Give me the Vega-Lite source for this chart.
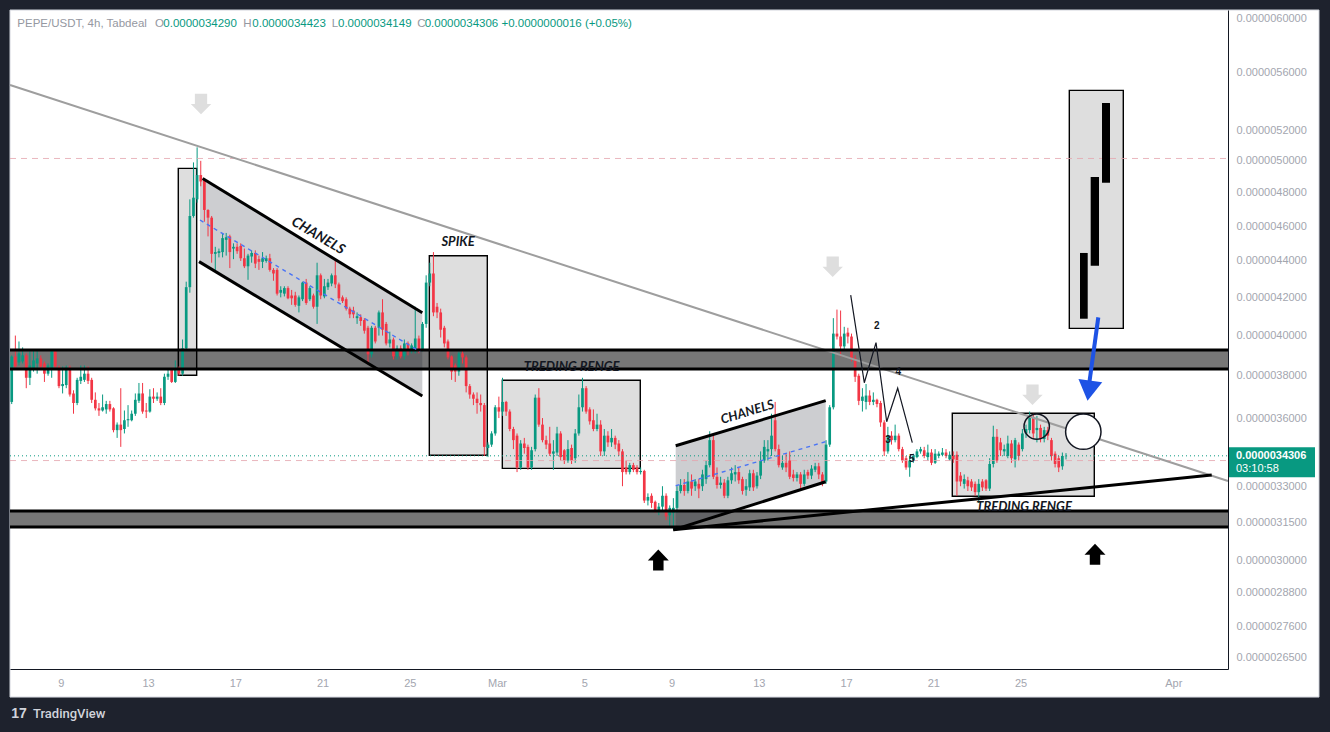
{
  "$schema": "https://vega.github.io/schema/vega-lite/v6.json",
  "width": 1218,
  "height": 659,
  "autosize": {"type": "none"},
  "padding": {"left": 10, "top": 10, "right": 102, "bottom": 63},
  "background": "#1e222d",
  "config": {"view": {"stroke": null, "fill": "#ffffff"}, "text": {"font": "Liberation Sans"}},
  "datasets": {
    "panel": [{"i": 34.53, "i2": 394.59, "p": 60.62, "p2": 25.21}],
    "bands": [{"i": 34.53, "i2": 369.56, "p": 39.27, "p2": 38.33}, {"i": 34.53, "i2": 369.56, "p": 31.97, "p2": 31.33}],
    "blines": [{"i": 34.53, "i2": 369.56, "p": 39.27}, {"i": 34.53, "i2": 369.56, "p": 38.33}, {"i": 34.53, "i2": 369.56, "p": 31.97}, {"i": 34.53, "i2": 369.56, "p": 31.33}],
    "plines": [{"i": 34.53, "i2": 369.56, "p": 50.15}, {"i": 34.53, "i2": 369.56, "p": 34.1}],
    "last": [{"i": 34.53, "i2": 369.56, "p": 34.306}],
    "boxes": [
      {"i": 80.82, "i2": 85.88, "p": 49.52, "p2": 38.02},
      {"i": 149.87, "i2": 165.82, "p": 44.29, "p2": 34.33},
      {"i": 169.95, "i2": 207.9, "p": 37.78, "p2": 33.76},
      {"i": 293.72, "i2": 332.78, "p": 36.22, "p2": 32.58},
      {"i": 325.91, "i2": 340.76, "p": 54.71, "p2": 40.37}
    ],
    "chfill": [
      {"g": "a", "i": 86.79, "p": 49.0, "p2": 43.92}, {"g": "a", "i": 147.94, "p": 41.18, "p2": 37.03},
      {"g": "b", "i": 217.64, "p": 34.75, "p2": 31.24}, {"g": "b", "i": 258.9, "p": 36.81, "p2": 33.19}
    ],
    "candles": [
      {"i":35,"o":36.75,"h":39.0,"l":36.65,"c":38.94},{"i":36,"o":38.94,"h":40.0,"l":38.3,"c":38.45},
      {"i":37,"o":38.65,"h":39.7,"l":38.5,"c":39.1},{"i":38,"o":38.7,"h":39.4,"l":38.6,"c":39.0},
      {"i":39,"o":39.0,"h":39.1,"l":37.4,"c":37.9},{"i":40,"o":37.9,"h":39.2,"l":37.55,"c":38.5},
      {"i":41,"o":38.3,"h":39.3,"l":38.2,"c":38.75},{"i":42,"o":38.6,"h":39.3,"l":38.1,"c":38.85},
      {"i":43,"o":38.85,"h":39.0,"l":38.3,"c":38.45},{"i":44,"o":38.6,"h":38.7,"l":37.7,"c":38.1},
      {"i":45,"o":38.1,"h":38.6,"l":38.0,"c":38.5},{"i":46,"o":38.3,"h":39.3,"l":37.9,"c":39.2},
      {"i":47,"o":39.2,"h":39.3,"l":38.3,"c":38.45},{"i":48,"o":38.4,"h":38.5,"l":37.4,"c":37.5},
      {"i":49,"o":37.5,"h":38.45,"l":37.15,"c":37.6},{"i":50,"o":37.55,"h":38.5,"l":37.4,"c":38.4},
      {"i":51,"o":38.4,"h":38.5,"l":37.0,"c":37.1},{"i":52,"o":37.15,"h":37.3,"l":36.2,"c":36.7},
      {"i":53,"o":36.7,"h":37.9,"l":36.6,"c":37.8},{"i":54,"o":37.75,"h":38.5,"l":37.6,"c":37.95},
      {"i":55,"o":37.8,"h":38.5,"l":37.7,"c":38.1},{"i":56,"o":38.1,"h":38.45,"l":37.6,"c":37.75},
      {"i":57,"o":37.8,"h":37.9,"l":36.7,"c":36.85},{"i":58,"o":36.85,"h":37.2,"l":36.35,"c":36.45},
      {"i":59,"o":36.45,"h":36.7,"l":36.1,"c":36.35},{"i":60,"o":36.35,"h":37.1,"l":36.3,"c":36.5},
      {"i":61,"o":36.4,"h":36.8,"l":36.2,"c":36.65},{"i":62,"o":36.65,"h":36.8,"l":36.3,"c":36.4},
      {"i":63,"o":36.45,"h":36.5,"l":35.35,"c":35.45},{"i":64,"o":35.45,"h":35.8,"l":35.1,"c":35.7},
      {"i":65,"o":35.7,"h":37.4,"l":34.7,"c":35.45},{"i":66,"o":35.5,"h":36.35,"l":35.3,"c":35.9},
      {"i":67,"o":35.9,"h":36.6,"l":35.6,"c":35.95},{"i":68,"o":35.9,"h":36.35,"l":35.85,"c":36.2},
      {"i":69,"o":36.2,"h":37.15,"l":36.1,"c":36.85},{"i":70,"o":36.8,"h":37.65,"l":36.7,"c":37.15},
      {"i":71,"o":37.15,"h":37.65,"l":36.2,"c":36.3},{"i":72,"o":36.35,"h":36.7,"l":36.0,"c":36.3},
      {"i":73,"o":36.3,"h":37.35,"l":36.25,"c":37.0},{"i":74,"o":37.0,"h":37.4,"l":36.7,"c":36.9},
      {"i":75,"o":36.9,"h":37.2,"l":36.8,"c":37.0},{"i":76,"o":37.0,"h":37.4,"l":36.6,"c":36.7},
      {"i":77,"o":36.7,"h":38.1,"l":36.6,"c":37.95},{"i":78,"o":37.95,"h":38.3,"l":37.8,"c":38.1},
      {"i":79,"o":38.35,"h":38.4,"l":37.65,"c":37.7},{"i":80,"o":37.7,"h":38.75,"l":37.65,"c":38.35},
      {"i":81,"o":38.35,"h":38.45,"l":38.0,"c":38.1},{"i":82,"o":38.1,"h":39.8,"l":38.0,"c":39.35},
      {"i":83,"o":39.35,"h":42.85,"l":39.2,"c":42.55},{"i":84,"o":42.55,"h":47.6,"l":42.25,"c":46.6},
      {"i":85,"o":46.6,"h":49.9,"l":46.5,"c":47.7},{"i":86,"o":47.6,"h":50.87,"l":47.4,"c":49.1},
      {"i":87,"o":49.1,"h":50.0,"l":48.4,"c":48.7},{"i":88,"o":48.8,"h":48.85,"l":46.26,"c":46.96},
      {"i":89,"o":46.96,"h":47.0,"l":45.4,"c":46.5},{"i":90,"o":46.5,"h":46.6,"l":43.9,"c":44.4},
      {"i":91,"o":44.4,"h":44.8,"l":43.4,"c":44.5},{"i":92,"o":44.45,"h":44.7,"l":44.2,"c":44.55},
      {"i":93,"o":44.5,"h":45.6,"l":44.2,"c":45.3},{"i":94,"o":45.2,"h":45.6,"l":44.3,"c":45.35},
      {"i":95,"o":45.4,"h":45.5,"l":43.6,"c":44.5},{"i":96,"o":44.7,"h":45.0,"l":44.1,"c":44.8},
      {"i":97,"o":44.8,"h":45.0,"l":44.4,"c":44.55},{"i":98,"o":44.85,"h":45.0,"l":44.0,"c":44.15},
      {"i":99,"o":44.15,"h":44.7,"l":43.6,"c":43.7},{"i":100,"o":43.7,"h":44.4,"l":42.95,"c":44.3},
      {"i":101,"o":44.25,"h":44.6,"l":43.9,"c":44.45},{"i":102,"o":44.45,"h":44.6,"l":43.6,"c":43.85},
      {"i":103,"o":44.1,"h":44.3,"l":43.5,"c":43.95},{"i":104,"o":43.95,"h":44.5,"l":43.6,"c":44.15},
      {"i":105,"o":44.0,"h":44.3,"l":43.9,"c":44.15},{"i":106,"o":44.15,"h":44.4,"l":43.4,"c":43.5},
      {"i":107,"o":43.5,"h":43.6,"l":42.9,"c":43.3},{"i":108,"o":43.5,"h":43.6,"l":42.1,"c":42.2},
      {"i":109,"o":42.25,"h":42.6,"l":42.0,"c":42.4},{"i":110,"o":42.2,"h":42.6,"l":42.05,"c":42.5},
      {"i":111,"o":42.5,"h":42.6,"l":41.9,"c":41.95},{"i":112,"o":42.1,"h":42.4,"l":41.6,"c":41.95},
      {"i":113,"o":42.1,"h":42.3,"l":41.5,"c":41.6},{"i":114,"o":41.55,"h":42.1,"l":41.2,"c":42.0},
      {"i":115,"o":41.9,"h":42.85,"l":41.8,"c":42.8},{"i":116,"o":42.8,"h":43.0,"l":41.6,"c":41.7},
      {"i":117,"o":41.9,"h":42.6,"l":41.8,"c":42.5},{"i":118,"o":42.1,"h":42.2,"l":41.4,"c":41.5},
      {"i":119,"o":41.5,"h":43.9,"l":40.6,"c":43.2},{"i":120,"o":43.2,"h":43.3,"l":41.9,"c":42.1},
      {"i":121,"o":42.05,"h":43.0,"l":41.95,"c":42.6},{"i":122,"o":42.55,"h":43.0,"l":42.4,"c":42.8},
      {"i":123,"o":42.75,"h":43.3,"l":42.6,"c":43.2},{"i":124,"o":43.2,"h":44.05,"l":42.5,"c":42.7},
      {"i":125,"o":42.7,"h":42.8,"l":41.8,"c":41.95},{"i":126,"o":42.0,"h":42.1,"l":41.7,"c":41.8},
      {"i":127,"o":41.9,"h":42.0,"l":41.3,"c":41.4},{"i":128,"o":41.4,"h":41.5,"l":40.9,"c":41.1},
      {"i":129,"o":41.3,"h":41.5,"l":40.9,"c":41.1},{"i":130,"o":40.9,"h":41.2,"l":40.6,"c":41.0},
      {"i":131,"o":40.95,"h":41.1,"l":40.5,"c":40.75},{"i":132,"o":40.8,"h":40.9,"l":40.1,"c":40.25},
      {"i":133,"o":40.4,"h":40.5,"l":38.6,"c":39.05},{"i":134,"o":39.05,"h":40.5,"l":38.9,"c":40.4},
      {"i":135,"o":40.4,"h":40.5,"l":39.6,"c":39.7},{"i":136,"o":40.4,"h":41.3,"l":40.0,"c":41.2},
      {"i":137,"o":41.2,"h":41.9,"l":40.0,"c":40.3},{"i":138,"o":40.6,"h":40.7,"l":39.5,"c":39.6},
      {"i":139,"o":39.6,"h":40.2,"l":39.4,"c":39.8},{"i":140,"o":39.8,"h":39.9,"l":38.8,"c":38.95},
      {"i":141,"o":38.95,"h":39.5,"l":38.8,"c":39.35},{"i":142,"o":39.35,"h":39.5,"l":38.85,"c":38.95},
      {"i":143,"o":38.95,"h":39.8,"l":38.8,"c":39.6},{"i":144,"o":39.6,"h":39.7,"l":39.0,"c":39.2},
      {"i":145,"o":39.2,"h":39.6,"l":39.1,"c":39.5},{"i":146,"o":39.2,"h":41.5,"l":39.1,"c":39.85},
      {"i":147,"o":39.85,"h":40.0,"l":39.1,"c":39.3},{"i":148,"o":39.3,"h":40.7,"l":39.2,"c":40.6},
      {"i":149,"o":40.6,"h":43.2,"l":40.4,"c":42.8},{"i":150,"o":42.8,"h":43.9,"l":42.6,"c":43.3},
      {"i":151,"o":43.3,"h":44.5,"l":41.0,"c":41.2},{"i":152,"o":41.5,"h":41.7,"l":40.9,"c":41.2},
      {"i":153,"o":41.2,"h":41.4,"l":39.9,"c":40.3},{"i":154,"o":40.4,"h":40.5,"l":39.4,"c":39.6},
      {"i":155,"o":39.7,"h":39.8,"l":38.8,"c":38.9},{"i":156,"o":38.95,"h":39.0,"l":37.8,"c":38.2},
      {"i":157,"o":38.5,"h":38.6,"l":37.7,"c":38.2},{"i":158,"o":38.2,"h":39.2,"l":38.0,"c":39.1},
      {"i":159,"o":39.1,"h":39.3,"l":38.6,"c":38.9},{"i":160,"o":38.9,"h":39.0,"l":37.2,"c":37.5},
      {"i":161,"o":37.5,"h":37.6,"l":36.9,"c":37.1},{"i":162,"o":37.1,"h":37.2,"l":36.6,"c":36.9},
      {"i":163,"o":36.9,"h":37.2,"l":36.2,"c":36.7},{"i":164,"o":36.7,"h":37.1,"l":36.3,"c":36.6},
      {"i":165,"o":36.6,"h":36.7,"l":34.3,"c":34.7},{"i":166,"o":34.65,"h":34.9,"l":34.25,"c":34.8},
      {"i":167,"o":34.8,"h":35.4,"l":34.7,"c":35.3},{"i":168,"o":35.3,"h":36.6,"l":35.2,"c":36.5},
      {"i":169,"o":36.5,"h":37.0,"l":36.0,"c":36.3},{"i":170,"o":36.3,"h":37.9,"l":36.1,"c":36.75},
      {"i":171,"o":36.75,"h":36.8,"l":36.1,"c":36.3},{"i":172,"o":36.3,"h":36.4,"l":35.4,"c":35.5},
      {"i":173,"o":35.5,"h":35.6,"l":34.6,"c":35.0},{"i":174,"o":35.2,"h":35.3,"l":33.6,"c":33.8},
      {"i":175,"o":33.8,"h":35.0,"l":33.7,"c":34.85},{"i":176,"o":34.85,"h":35.1,"l":34.4,"c":34.65},
      {"i":177,"o":34.7,"h":34.8,"l":33.7,"c":33.8},{"i":178,"o":33.8,"h":34.7,"l":33.7,"c":34.55},
      {"i":179,"o":34.6,"h":37.1,"l":34.5,"c":36.95},{"i":180,"o":36.95,"h":37.4,"l":35.6,"c":35.7},
      {"i":181,"o":35.7,"h":36.0,"l":34.9,"c":35.0},{"i":182,"o":35.0,"h":35.2,"l":34.6,"c":34.8},
      {"i":183,"o":34.85,"h":35.6,"l":34.3,"c":34.4},{"i":184,"o":34.4,"h":35.0,"l":33.7,"c":34.5},
      {"i":185,"o":34.45,"h":35.6,"l":34.3,"c":35.3},{"i":186,"o":35.3,"h":35.4,"l":34.1,"c":34.25},
      {"i":187,"o":34.55,"h":34.6,"l":33.95,"c":34.1},{"i":188,"o":34.1,"h":35.0,"l":34.0,"c":34.6},
      {"i":189,"o":34.65,"h":34.8,"l":33.95,"c":34.1},{"i":190,"o":34.2,"h":35.5,"l":34.0,"c":35.3},
      {"i":191,"o":35.3,"h":37.1,"l":35.2,"c":36.5},{"i":192,"o":36.5,"h":37.9,"l":36.3,"c":37.4},
      {"i":193,"o":37.4,"h":37.5,"l":36.2,"c":36.3},{"i":194,"o":36.4,"h":36.5,"l":35.7,"c":35.85},
      {"i":195,"o":35.9,"h":36.4,"l":35.4,"c":35.5},{"i":196,"o":35.5,"h":36.2,"l":35.4,"c":35.7},
      {"i":197,"o":35.7,"h":35.9,"l":34.3,"c":34.5},{"i":198,"o":34.5,"h":35.5,"l":34.3,"c":35.2},
      {"i":199,"o":35.2,"h":35.4,"l":34.7,"c":34.9},{"i":200,"o":34.9,"h":35.5,"l":34.7,"c":35.1},
      {"i":201,"o":35.1,"h":35.2,"l":34.6,"c":34.8},{"i":202,"o":34.85,"h":35.0,"l":34.3,"c":34.5},
      {"i":203,"o":34.5,"h":34.6,"l":33.0,"c":33.6},{"i":204,"o":33.8,"h":34.1,"l":33.5,"c":33.6},
      {"i":205,"o":33.6,"h":34.0,"l":33.5,"c":33.9},{"i":206,"o":33.9,"h":34.0,"l":33.6,"c":33.7},
      {"i":207,"o":33.8,"h":33.9,"l":33.5,"c":33.6},{"i":208,"o":33.6,"h":33.8,"l":33.5,"c":33.65},
      {"i":209,"o":33.65,"h":33.7,"l":32.3,"c":32.4},{"i":210,"o":32.4,"h":32.7,"l":32.2,"c":32.55},
      {"i":211,"o":32.6,"h":32.7,"l":32.1,"c":32.3},{"i":212,"o":32.35,"h":32.4,"l":31.9,"c":31.95},
      {"i":213,"o":31.95,"h":32.3,"l":31.8,"c":32.15},{"i":214,"o":32.15,"h":33.0,"l":32.0,"c":32.6},
      {"i":215,"o":32.6,"h":32.7,"l":31.6,"c":31.75},{"i":216,"o":31.8,"h":32.2,"l":31.3,"c":32.1},
      {"i":217,"o":31.9,"h":32.5,"l":31.25,"c":32.1},{"i":218,"o":32.1,"h":33.0,"l":31.9,"c":32.8},
      {"i":219,"o":32.8,"h":33.3,"l":32.7,"c":33.05},{"i":220,"o":33.05,"h":33.3,"l":32.6,"c":32.8},
      {"i":221,"o":32.8,"h":33.6,"l":32.7,"c":33.2},{"i":222,"o":33.2,"h":33.5,"l":32.6,"c":32.9},
      {"i":223,"o":33.0,"h":33.3,"l":32.8,"c":33.2},{"i":224,"o":33.1,"h":33.3,"l":32.5,"c":32.9},
      {"i":225,"o":33.0,"h":33.7,"l":32.8,"c":33.5},{"i":226,"o":33.3,"h":34.1,"l":33.1,"c":33.9},
      {"i":227,"o":33.9,"h":35.4,"l":33.8,"c":35.0},{"i":228,"o":35.0,"h":35.3,"l":33.3,"c":33.4},
      {"i":229,"o":33.4,"h":33.8,"l":32.9,"c":33.05},{"i":230,"o":33.05,"h":33.4,"l":32.9,"c":33.15},
      {"i":231,"o":33.15,"h":33.3,"l":32.5,"c":32.6},{"i":232,"o":32.6,"h":33.4,"l":32.5,"c":33.25},
      {"i":233,"o":33.25,"h":33.8,"l":33.1,"c":33.55},{"i":234,"o":33.5,"h":33.9,"l":33.2,"c":33.6},
      {"i":235,"o":33.6,"h":33.8,"l":33.1,"c":33.25},{"i":236,"o":33.3,"h":33.4,"l":32.65,"c":32.8},
      {"i":237,"o":32.85,"h":33.3,"l":32.6,"c":33.0},{"i":238,"o":32.95,"h":33.7,"l":32.8,"c":33.55},
      {"i":239,"o":33.55,"h":33.7,"l":32.8,"c":32.95},{"i":240,"o":33.0,"h":33.6,"l":32.9,"c":33.45},
      {"i":241,"o":33.45,"h":34.5,"l":33.3,"c":34.1},{"i":242,"o":34.1,"h":35.0,"l":34.0,"c":34.7},
      {"i":243,"o":34.5,"h":35.0,"l":34.1,"c":34.6},{"i":244,"o":34.6,"h":36.2,"l":34.3,"c":35.2},
      {"i":245,"o":35.9,"h":36.75,"l":34.5,"c":34.6},{"i":246,"o":34.6,"h":34.8,"l":33.8,"c":33.9},
      {"i":247,"o":33.8,"h":34.3,"l":33.7,"c":34.0},{"i":248,"o":34.0,"h":34.4,"l":33.6,"c":33.8},
      {"i":249,"o":34.1,"h":34.5,"l":33.3,"c":33.4},{"i":250,"o":33.5,"h":33.7,"l":33.2,"c":33.35},
      {"i":251,"o":33.35,"h":33.6,"l":33.2,"c":33.5},{"i":252,"o":33.5,"h":33.6,"l":32.9,"c":33.1},
      {"i":253,"o":33.1,"h":33.7,"l":33.0,"c":33.5},{"i":254,"o":33.6,"h":33.7,"l":33.3,"c":33.45},
      {"i":255,"o":33.45,"h":33.9,"l":33.3,"c":33.75},{"i":256,"o":33.7,"h":34.0,"l":33.6,"c":33.85},
      {"i":257,"o":33.85,"h":34.0,"l":33.3,"c":33.5},{"i":258,"o":33.5,"h":33.6,"l":33.0,"c":33.1},
      {"i":259,"o":33.2,"h":35.0,"l":33.1,"c":34.8},{"i":260,"o":34.8,"h":36.6,"l":34.7,"c":36.5},
      {"i":261,"o":36.5,"h":40.9,"l":36.4,"c":40.1},{"i":262,"o":40.1,"h":41.35,"l":39.8,"c":39.95},
      {"i":263,"o":39.95,"h":41.3,"l":38.95,"c":39.45},{"i":264,"o":39.45,"h":40.45,"l":39.3,"c":40.1},
      {"i":265,"o":40.15,"h":40.4,"l":39.6,"c":39.95},{"i":266,"o":39.95,"h":40.1,"l":38.7,"c":38.85},
      {"i":267,"o":38.85,"h":39.0,"l":37.7,"c":37.95},{"i":268,"o":38.0,"h":38.1,"l":36.6,"c":36.8},
      {"i":269,"o":36.8,"h":37.4,"l":36.3,"c":37.0},{"i":270,"o":36.75,"h":37.6,"l":36.4,"c":37.05},
      {"i":271,"o":37.05,"h":37.3,"l":36.6,"c":36.75},{"i":272,"o":36.75,"h":37.2,"l":36.6,"c":36.85},
      {"i":273,"o":36.85,"h":36.9,"l":36.5,"c":36.65},{"i":274,"o":36.7,"h":36.8,"l":35.6,"c":35.8},
      {"i":275,"o":35.8,"h":35.9,"l":34.3,"c":34.5},{"i":276,"o":34.5,"h":35.6,"l":34.4,"c":35.2},
      {"i":277,"o":35.2,"h":35.4,"l":34.8,"c":35.0},{"i":278,"o":35.0,"h":35.7,"l":34.9,"c":35.2},
      {"i":279,"o":35.2,"h":35.3,"l":34.5,"c":34.6},{"i":280,"o":34.6,"h":34.7,"l":34.0,"c":34.1},
      {"i":281,"o":34.2,"h":34.3,"l":33.7,"c":33.8},{"i":282,"o":33.8,"h":34.3,"l":33.4,"c":34.1},
      {"i":283,"o":34.1,"h":34.4,"l":34.0,"c":34.3},{"i":284,"o":34.25,"h":34.6,"l":34.2,"c":34.5},
      {"i":285,"o":34.5,"h":34.7,"l":34.4,"c":34.6},{"i":286,"o":34.55,"h":34.7,"l":34.2,"c":34.3},
      {"i":287,"o":34.25,"h":34.8,"l":34.1,"c":34.45},{"i":288,"o":34.45,"h":34.6,"l":33.9,"c":34.0},
      {"i":289,"o":34.0,"h":34.6,"l":33.95,"c":34.4},{"i":290,"o":34.3,"h":34.5,"l":34.2,"c":34.4},
      {"i":291,"o":34.35,"h":34.65,"l":34.3,"c":34.45},{"i":292,"o":34.45,"h":34.6,"l":34.2,"c":34.3},
      {"i":293,"o":34.15,"h":34.5,"l":34.1,"c":34.35},{"i":294,"o":34.3,"h":34.5,"l":34.0,"c":34.15},
      {"i":295,"o":34.35,"h":34.5,"l":32.6,"c":33.2},{"i":296,"o":33.45,"h":33.6,"l":33.0,"c":33.2},
      {"i":297,"o":33.1,"h":33.5,"l":32.9,"c":33.3},{"i":298,"o":33.25,"h":33.4,"l":32.8,"c":33.0},
      {"i":299,"o":33.2,"h":33.3,"l":32.8,"c":32.95},{"i":300,"o":33.1,"h":33.2,"l":32.6,"c":32.75},
      {"i":301,"o":32.75,"h":33.3,"l":32.3,"c":33.1},{"i":302,"o":33.2,"h":33.3,"l":32.8,"c":32.95},
      {"i":303,"o":33.25,"h":33.3,"l":32.8,"c":32.9},{"i":304,"o":32.9,"h":34.2,"l":32.8,"c":33.95},
      {"i":305,"o":33.95,"h":35.65,"l":33.8,"c":35.15},{"i":306,"o":35.15,"h":35.5,"l":34.0,"c":34.1},
      {"i":307,"o":34.9,"h":35.1,"l":34.3,"c":34.55},{"i":308,"o":34.5,"h":34.8,"l":34.3,"c":34.6},
      {"i":309,"o":34.3,"h":35.2,"l":34.2,"c":34.85},{"i":310,"o":34.85,"h":35.0,"l":34.0,"c":34.2},
      {"i":311,"o":34.15,"h":35.1,"l":33.8,"c":35.0},{"i":312,"o":34.8,"h":34.9,"l":34.1,"c":34.3},
      {"i":313,"o":34.6,"h":35.5,"l":34.5,"c":35.3},{"i":314,"o":35.3,"h":35.7,"l":35.1,"c":35.5},
      {"i":315,"o":35.45,"h":36.3,"l":35.3,"c":36.0},{"i":316,"o":36.0,"h":36.2,"l":35.1,"c":35.3},
      {"i":317,"o":35.45,"h":36.1,"l":34.9,"c":35.55},{"i":318,"o":35.55,"h":35.7,"l":34.9,"c":35.05},
      {"i":319,"o":35.05,"h":35.6,"l":34.9,"c":35.45},{"i":320,"o":35.45,"h":35.6,"l":35.0,"c":35.2},
      {"i":321,"o":35.0,"h":35.1,"l":34.1,"c":34.3},{"i":322,"o":34.4,"h":34.5,"l":33.8,"c":33.95},
      {"i":323,"o":34.2,"h":34.3,"l":33.6,"c":33.8},{"i":324,"o":33.85,"h":34.45,"l":33.7,"c":34.3},
      {"i":325,"o":34.29,"h":34.423,"l":34.149,"c":34.306}
    ],
    "trend": [{"i": 34.53, "p": 55.08}, {"i": 369.56, "p": 33.22}],
    "blk": [
      {"g": "a", "i": 87.53, "p": 48.89}, {"g": "a", "i": 147.94, "p": 41.18},
      {"g": "b", "i": 86.52, "p": 43.96}, {"g": "b", "i": 147.94, "p": 37.03},
      {"g": "c", "i": 217.64, "p": 34.75}, {"g": "c", "i": 258.9, "p": 36.81},
      {"g": "d", "i": 216.98, "p": 31.21}, {"g": "d", "i": 258.9, "p": 33.19},
      {"g": "e", "i": 216.98, "p": 31.21}, {"g": "e", "i": 365.08, "p": 33.48}
    ],
    "mid": [
      {"g": "a", "i": 86.79, "p": 46.36}, {"g": "a", "i": 147.31, "p": 39.19},
      {"g": "b", "i": 217.64, "p": 33.02}, {"g": "b", "i": 258.9, "p": 34.93}
    ],
    "zig": [
      {"i": 265.78, "p": 42.12}, {"i": 269.52, "p": 37.66}, {"i": 272.74, "p": 39.64},
      {"i": 275.68, "p": 35.83}, {"i": 278.7, "p": 37.4}, {"i": 282.72, "p": 34.89}
    ],
    "shaft": [{"i": 333.88, "p": 40.94}, {"i": 331.33, "p": 37.55}],
    "head": [{"i": 331.33, "p": 37.31}],
    "proj": [
      {"i": 328.85, "i2": 330.97, "p": 44.45, "p2": 40.87},
      {"i": 331.79, "i2": 334.08, "p": 48.98, "p2": 43.73},
      {"i": 334.9, "i2": 337.1, "p": 53.83, "p2": 48.62}
    ],
    "ring": [{"i": 316.94, "p": 35.61}],
    "disc": [{"i": 329.76, "p": 35.38}],
    "gdown": [{"i": 87.07, "p": 53.76}, {"i": 260.83, "p": 43.68}, {"i": 315.78, "p": 37.09}],
    "bup": [{"i": 212.86, "p": 30.03}, {"i": 332.98, "p": 30.25}],
    "notes": [
      {"g": "c1", "txt": "CHANELS", "i": 119.25, "p": 45.42},
      {"g": "c2", "txt": "CHANELS", "i": 237.34, "p": 36.27},
      {"g": "t", "txt": "SPIKE", "i": 157.76, "p": 45.07},
      {"g": "t", "txt": "TREDING RENGE", "i": 189.03, "p": 38.41},
      {"g": "t", "txt": "TREDING RENGE", "i": 313.45, "p": 32.15},
      {"g": "w", "txt": "2", "i": 272.93, "p": 40.49},
      {"g": "w", "txt": "4", "i": 278.87, "p": 38.17},
      {"g": "w", "txt": "3", "i": 276.04, "p": 35.0},
      {"g": "w", "txt": "5", "i": 282.6, "p": 34.17}
    ],
    "hdr": [
      {"k": "lab", "txt": "PEPE/USDT, 4h, Tabdeal", "i": 36.54, "p": 59.54},
      {"k": "lab", "txt": "O", "i": 74.41, "p": 59.54},
      {"k": "val", "txt": "0.0000034290", "i": 76.7, "p": 59.54},
      {"k": "lab", "txt": "H", "i": 98.7, "p": 59.54},
      {"k": "val", "txt": "0.0000034423", "i": 101.18, "p": 59.54},
      {"k": "lab", "txt": "L", "i": 123.02, "p": 59.54},
      {"k": "val", "txt": "0.0000034149", "i": 124.75, "p": 59.54},
      {"k": "lab", "txt": "C", "i": 146.56, "p": 59.54},
      {"k": "val", "txt": "0.0000034306  +0.0000000016 (+0.05%)", "i": 148.6, "p": 59.54}
    ],
    "tag": [{"i": 369.56, "i2": 393.49, "p": 34.68, "p2": 33.38}],
    "tagtxt": [
      {"k": 1, "txt": "0.0000034306", "i": 371.76, "p": 34.31},
      {"k": 2, "txt": "03:10:58", "i": 371.76, "p": 33.72}
    ],
    "logo": [{"txt": "17", "i": 37.0, "p": 24.67}],
    "brand": [{"txt": "TradingView", "i": 40.86, "p": 24.67}]
  },
  "encoding": {
    "x": {"field": "i", "type": "quantitative",
      "scale": {"domain": [34.53, 369.56], "nice": false, "zero": false, "padding": 0},
      "axis": {"title": null, "zindex": 1, "grid": false, "ticks": false,
        "values": [48.5, 72.5, 96.5, 120.5, 144.5, 168.5, 192.5, 216.5, 240.5, 264.5, 288.5, 312.5, 354.5],
        "labelExpr": "['9','13','17','21','25','Mar','5','9','13','17','21','25','Apr'][indexof([48.5,72.5,96.5,120.5,144.5,168.5,192.5,216.5,240.5,264.5,288.5,312.5,354.5], datum.value)]",
        "domainColor": "#131722", "domainWidth": 1, "labelColor": "#a3a6af", "labelFont": "Liberation Sans",
        "labelFontSize": 11, "labelPadding": 8, "labelOverlap": false, "labelFlush": false}},
    "y": {"field": "p", "type": "quantitative",
      "scale": {"type": "log", "domain": [26.13, 60.62], "nice": false, "padding": 0},
      "axis": {"title": null, "orient": "right", "zindex": 1, "grid": false, "ticks": false,
        "values": [60, 56, 52, 50, 48, 46, 44, 42, 40, 38, 36, 33, 31.5, 30, 28.8, 27.6, 26.5],
        "labelExpr": "'0.00000' + format(datum.value * 1000, '05d')",
        "domainColor": "#131722", "domainWidth": 1, "labelColor": "#a3a6af", "labelFont": "Liberation Sans",
        "labelFontSize": 11, "labelPadding": 8, "labelOverlap": false}}
  },
  "layer": [
    {
      "data": {"name": "panel"},
      "mark": {"type": "rect", "fill": "#ffffff", "stroke": "#d1d4dc", "strokeWidth": 1},
      "encoding": {"x2": {"field": "i2"}, "y2": {"field": "p2"}}
    },
    {
      "data": {"name": "bands"},
      "mark": {"type": "rect", "fill": "#777777"},
      "encoding": {"x2": {"field": "i2"}, "y2": {"field": "p2"}}
    },
    {
      "data": {"name": "boxes"},
      "mark": {"type": "rect", "fill": "#000000", "fillOpacity": 0.13, "stroke": "#000000", "strokeWidth": 1.4},
      "encoding": {"x2": {"field": "i2"}, "y2": {"field": "p2"}}
    },
    {
      "data": {"name": "chfill"},
      "mark": {"type": "area", "color": "#1a1f2e", "opacity": 0.22},
      "encoding": {"y2": {"field": "p2"}, "detail": {"field": "g"}}
    },
    {
      "data": {"name": "candles"},
      "mark": {"type": "rule", "strokeWidth": 1},
      "encoding": {
        "y": {"field": "l", "type": "quantitative",
          "axis": {"title": null, "orient": "right", "zindex": 1, "grid": false, "ticks": false,
            "values": [60, 56, 52, 50, 48, 46, 44, 42, 40, 38, 36, 33, 31.5, 30, 28.8, 27.6, 26.5],
            "labelExpr": "'0.00000' + format(datum.value * 1000, '05d')",
            "domainColor": "#131722", "domainWidth": 1, "labelColor": "#a3a6af", "labelFont": "Liberation Sans",
            "labelFontSize": 11, "labelPadding": 8, "labelOverlap": false}},
        "y2": {"field": "h"},
        "color": {"condition": {"test": "datum.c >= datum.o", "value": "#089981"}, "value": "#f23645"}
      }
    },
    {
      "data": {"name": "candles"},
      "mark": {"type": "bar", "size": 2.7},
      "encoding": {
        "y": {"field": "o", "type": "quantitative",
          "axis": {"title": null, "orient": "right", "zindex": 1, "grid": false, "ticks": false,
            "values": [60, 56, 52, 50, 48, 46, 44, 42, 40, 38, 36, 33, 31.5, 30, 28.8, 27.6, 26.5],
            "labelExpr": "'0.00000' + format(datum.value * 1000, '05d')",
            "domainColor": "#131722", "domainWidth": 1, "labelColor": "#a3a6af", "labelFont": "Liberation Sans",
            "labelFontSize": 11, "labelPadding": 8, "labelOverlap": false}},
        "y2": {"field": "c"},
        "color": {"condition": {"test": "datum.c >= datum.o", "value": "#089981"}, "value": "#f23645"}
      }
    },
    {
      "data": {"name": "plines"},
      "mark": {"type": "rule", "color": "#e3a5ae", "strokeWidth": 1, "strokeDash": [6, 5], "opacity": 0.8},
      "encoding": {"x2": {"field": "i2"}}
    },
    {
      "data": {"name": "last"},
      "mark": {"type": "rule", "color": "#089981", "strokeWidth": 1, "strokeDash": [1, 3]},
      "encoding": {"x2": {"field": "i2"}}
    },
    {
      "data": {"name": "trend"},
      "mark": {"type": "line", "color": "#9e9e9e", "strokeWidth": 2},
      "encoding": {}
    },
    {
      "data": {"name": "blines"},
      "mark": {"type": "rule", "color": "#000000", "strokeWidth": 3},
      "encoding": {"x2": {"field": "i2"}}
    },
    {
      "data": {"name": "blk"},
      "mark": {"type": "line", "color": "#000000", "strokeWidth": 3},
      "encoding": {"detail": {"field": "g"}}
    },
    {
      "data": {"name": "mid"},
      "mark": {"type": "line", "color": "#4a74f5", "strokeWidth": 1.4, "strokeDash": [4, 4]},
      "encoding": {"detail": {"field": "g"}}
    },
    {
      "data": {"name": "zig"},
      "mark": {"type": "line", "color": "#131722", "strokeWidth": 1.2},
      "encoding": {}
    },
    {
      "data": {"name": "proj"},
      "mark": {"type": "rect", "fill": "#000000"},
      "encoding": {"x2": {"field": "i2"}, "y2": {"field": "p2"}}
    },
    {
      "data": {"name": "shaft"},
      "mark": {"type": "line", "color": "#1e53e5", "strokeWidth": 4},
      "encoding": {}
    },
    {
      "data": {"name": "head"},
      "mark": {"type": "point", "shape": "M-1,-0.8L1,-0.8L0,0.9Z", "filled": true, "size": 576, "angle": 8, "color": "#1e53e5", "opacity": 1}
    },
    {
      "data": {"name": "ring"},
      "mark": {"type": "point", "shape": "circle", "filled": false, "size": 645, "color": "#131722", "strokeWidth": 1.5, "opacity": 1}
    },
    {
      "data": {"name": "disc"},
      "mark": {"type": "point", "shape": "circle", "filled": true, "fill": "#ffffff", "stroke": "#131722", "strokeWidth": 1.5, "size": 1253, "opacity": 1}
    },
    {
      "data": {"name": "gdown"},
      "mark": {"type": "point", "shape": "M-0.6,-1L0.6,-1L0.6,0L1,0L0,1L-1,0L-0.6,0Z", "filled": true, "size": 420, "color": "#dedede", "opacity": 1}
    },
    {
      "data": {"name": "bup"},
      "mark": {"type": "point", "shape": "M0,-1L1,0.05L0.5,0.05L0.5,1L-0.5,1L-0.5,0.05L-1,0.05Z", "filled": true, "size": 440, "color": "#000000", "opacity": 1}
    },
    {
      "data": {"name": "notes"},
      "transform": [{"filter": "datum.g == 'c1'"}],
      "mark": {"type": "text", "font": "Lato", "fontStyle": "italic", "fontWeight": "bold", "fontSize": 14, "angle": 31, "color": "#131722"},
      "encoding": {"text": {"field": "txt", "type": "nominal"}}
    },
    {
      "data": {"name": "notes"},
      "transform": [{"filter": "datum.g == 'c2'"}],
      "mark": {"type": "text", "font": "Lato", "fontStyle": "italic", "fontWeight": "bold", "fontSize": 13, "angle": -17, "color": "#131722"},
      "encoding": {"text": {"field": "txt", "type": "nominal"}}
    },
    {
      "data": {"name": "notes"},
      "transform": [{"filter": "datum.g == 't'"}],
      "mark": {"type": "text", "font": "Lato", "fontStyle": "italic", "fontWeight": "bold", "fontSize": 13, "color": "#131722"},
      "encoding": {"text": {"field": "txt", "type": "nominal"}}
    },
    {
      "data": {"name": "notes"},
      "transform": [{"filter": "datum.g == 'w'"}],
      "mark": {"type": "text", "font": "Liberation Sans", "fontWeight": "bold", "fontSize": 10, "color": "#131722"},
      "encoding": {"text": {"field": "txt", "type": "nominal"}}
    },
    {
      "data": {"name": "hdr"},
      "mark": {"type": "text", "align": "left", "font": "Liberation Sans", "fontSize": 11.5},
      "encoding": {
        "text": {"field": "txt", "type": "nominal"},
        "color": {"field": "k", "type": "nominal", "scale": {"domain": ["lab", "val"], "range": ["#9598a1", "#089981"]}, "legend": null}
      }
    },
    {
      "data": {"name": "tag"},
      "mark": {"type": "rect", "fill": "#089981"},
      "encoding": {"x2": {"field": "i2"}, "y2": {"field": "p2"}}
    },
    {
      "data": {"name": "tagtxt"},
      "transform": [{"filter": "datum.k == 1"}],
      "mark": {"type": "text", "align": "left", "font": "Liberation Sans", "fontWeight": "bold", "fontSize": 11, "color": "#ffffff"},
      "encoding": {"text": {"field": "txt", "type": "nominal"}}
    },
    {
      "data": {"name": "tagtxt"},
      "transform": [{"filter": "datum.k == 2"}],
      "mark": {"type": "text", "align": "left", "font": "Liberation Sans", "fontSize": 11, "color": "#ffffff"},
      "encoding": {"text": {"field": "txt", "type": "nominal"}}
    },
    {
      "data": {"name": "logo"},
      "mark": {"type": "text", "align": "center", "font": "Liberation Sans", "fontWeight": "bold", "fontSize": 14, "color": "#d1d4dc"},
      "encoding": {"text": {"field": "txt", "type": "nominal"}}
    },
    {
      "data": {"name": "brand"},
      "mark": {"type": "text", "align": "left", "font": "Roboto", "fontWeight": 500, "fontSize": 13, "color": "#d1d4dc"},
      "encoding": {"text": {"field": "txt", "type": "nominal"}}
    }
  ]
}
